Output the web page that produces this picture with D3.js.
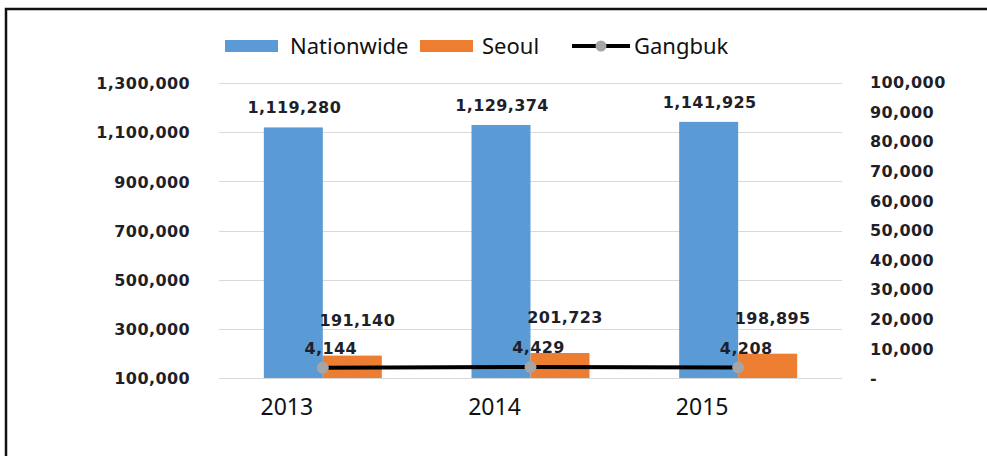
<!DOCTYPE html>
<html>
<head>
<meta charset="UTF-8">
<script src="https://cdn.jsdelivr.net/npm/d3@7"></script>
<style>
  body { margin: 0; background: #fff; }
  svg { display: block; }
  .val { font-family: "DejaVu Sans", Verdana, sans-serif; font-weight: bold; font-size: 16px; fill: #1f1f2a; letter-spacing: 0.4px; }
  .tick text { font-family: "DejaVu Sans", Verdana, sans-serif; font-weight: bold; font-size: 16px; fill: #1f1f2a; letter-spacing: 0.4px; }
  .xax .tick text { font-family: "Noto Sans", "Open Sans", sans-serif; font-weight: normal; font-size: 23px; fill: #111; letter-spacing: 0; }
  .leg { font-family: "Noto Sans", "Open Sans", sans-serif; font-size: 22px; fill: #111; }
</style>
</head>
<body>
<div id="chart"></div>
<script>
// data
const years = ["2013", "2014", "2015"];
const nationwide = [1119280, 1129374, 1141925];
const seoul = [191140, 201723, 198895];
const gangbuk = [4144, 4429, 4208];
const leftTicks = [100000, 300000, 500000, 700000, 900000, 1100000, 1300000];
const rightTicks = [0, 10000, 20000, 30000, 40000, 50000, 60000, 70000, 80000, 90000, 100000];
const seriesNames = ["Nationwide", "Seoul", "Gangbuk"];

const W = 987, H = 456;
const plot = {left: 219, right: 842, top: 83, bottom: 378};
const colors = {Nationwide: "#5b9bd5", Seoul: "#ed7d31", Gangbuk: "#000"};

const svg = d3.select("#chart").append("svg")
    .attr("width", W)
    .attr("height", H);

// frame (only top and left edges visible in the crop)
svg.append("path")
    .attr("d", "M6,456 V9 H987")
    .attr("fill", "none")
    .attr("stroke", "#111")
    .attr("stroke-width", 2.5);

const x = d3.scaleBand().domain(years).range([plot.left, plot.right]).padding(0);
const x1 = d3.scaleBand().domain(["Nationwide", "Seoul"]).range([0, x.bandwidth()])
    .paddingInner(0).paddingOuter(0.76);
const yL = d3.scaleLinear().domain([100000, 1300000]).range([plot.bottom, plot.top]);
const yR = d3.scaleLinear().domain([0, 100000]).range([plot.bottom, 82]);

const fmt = d3.format(",");

// gridlines
svg.append("g")
    .selectAll("line")
    .data(leftTicks)
    .join("line")
    .attr("x1", plot.left).attr("x2", plot.right)
    .attr("y1", d => Math.round(yL(d)) + 0.5).attr("y2", d => Math.round(yL(d)) + 0.5)
    .attr("stroke", "#d9d9d9")
    .attr("stroke-width", 1);

// left axis
svg.append("g")
    .attr("transform", "translate(" + plot.left + ",0)")
    .call(d3.axisLeft(yL).tickValues(leftTicks).tickFormat(fmt).tickSize(0).tickPadding(29))
    .call(g => g.select(".domain").remove())
    .selectAll("text").attr("dy", "0.36em");

// right axis
svg.append("g")
    .attr("transform", "translate(" + plot.right + ",0)")
    .call(d3.axisRight(yR).tickValues(rightTicks).tickFormat(d => d === 0 ? "-" : fmt(d)).tickSize(0).tickPadding(28))
    .call(g => g.select(".domain").remove())
    .selectAll("text").attr("dy", "0.36em");

// x axis
svg.append("g")
    .attr("class", "xax")
    .attr("transform", "translate(0," + plot.bottom + ")")
    .call(d3.axisBottom(x).tickSize(0).tickPadding(21))
    .call(g => g.select(".domain").remove())
    .selectAll("text").attr("dx", -36).attr("dy", "0.71em");

// bars
const barData = [];
years.forEach((yr, i) => {
  barData.push({year: yr, name: "Nationwide", value: nationwide[i]});
  barData.push({year: yr, name: "Seoul", value: seoul[i]});
});

svg.append("g")
    .selectAll("rect")
    .data(barData)
    .join("rect")
    .attr("x", d => x(d.year) + x1(d.name))
    .attr("width", x1.bandwidth())
    .attr("y", d => yL(d.value))
    .attr("height", d => yL(100000) - yL(d.value))
    .attr("fill", d => colors[d.name]);

// bar labels
svg.append("g")
    .selectAll("text")
    .data(barData)
    .join("text")
    .attr("class", "val")
    .attr("text-anchor", "middle")
    .attr("x", d => x(d.year) + x1(d.name) + x1.bandwidth() / 2 + (d.name === "Seoul" ? 5 : 1))
    .attr("y", d => d.name === "Seoul" ? yL(d.value) - 30 : yL(d.value) - 14)
    .text(d => fmt(d.value));

// Gangbuk line
const lineData = years.map((yr, i) => ({year: yr, value: gangbuk[i]}));
const line = d3.line()
    .x(d => x(d.year) + x.bandwidth() / 2)
    .y(d => yR(d.value) + 2);

svg.append("path")
    .datum(lineData)
    .attr("d", line)
    .attr("fill", "none")
    .attr("stroke", "#000")
    .attr("stroke-width", 4);

svg.append("g")
    .selectAll("circle")
    .data(lineData)
    .join("circle")
    .attr("cx", d => x(d.year) + x.bandwidth() / 2)
    .attr("cy", d => yR(d.value) + 2)
    .attr("r", 6)
    .attr("fill", "#a5a5a5");

svg.append("g")
    .selectAll("text")
    .data(lineData)
    .join("text")
    .attr("class", "val")
    .attr("text-anchor", "middle")
    .attr("x", d => x(d.year) + x.bandwidth() / 2 + 8)
    .attr("y", d => yR(d.value) - 12)
    .text(d => fmt(d.value));

// legend
const legX = [225, 420, 572];
const legTextX = [290, 482, 634];
const leg = svg.append("g");
seriesNames.forEach((name, i) => {
  if (name === "Gangbuk") {
    leg.append("line")
        .attr("x1", legX[i]).attr("x2", legX[i] + 58)
        .attr("y1", 46).attr("y2", 46)
        .attr("stroke", "#000").attr("stroke-width", 4);
    leg.append("circle")
        .attr("cx", legX[i] + 29).attr("cy", 46).attr("r", 5.5)
        .attr("fill", "#a5a5a5");
  } else {
    leg.append("rect")
        .attr("x", legX[i]).attr("y", 40)
        .attr("width", 53).attr("height", 12)
        .attr("fill", colors[name]);
  }
  leg.append("text")
      .attr("class", "leg")
      .attr("x", legTextX[i])
      .attr("y", 54)
      .text(name);
});
</script>
</body>
</html>
